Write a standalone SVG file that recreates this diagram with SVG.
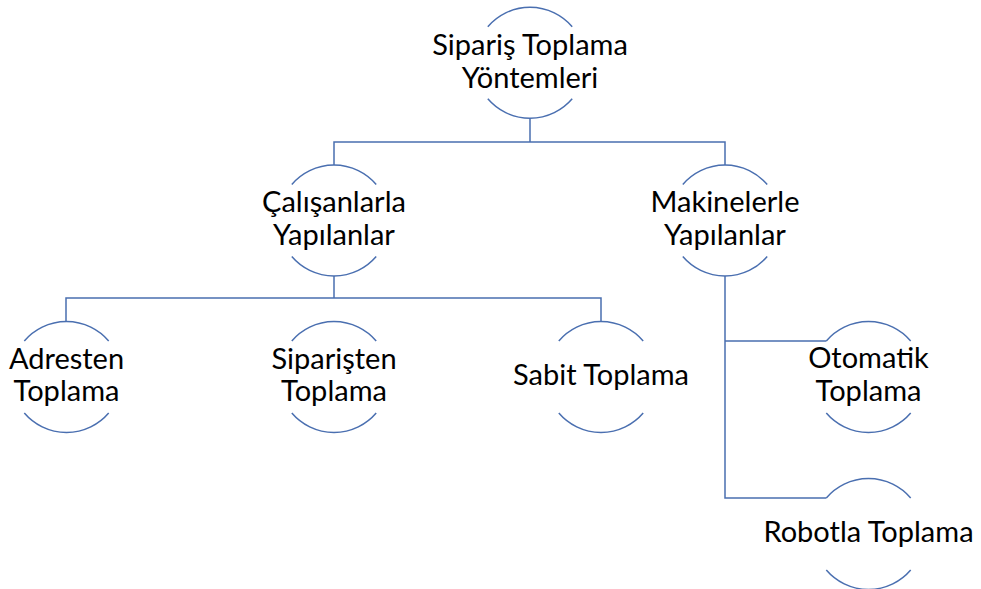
<svg xmlns="http://www.w3.org/2000/svg" width="981" height="589" viewBox="0 0 981 589">
  <style>
    .arc { fill: none; stroke: #4a6fb0; stroke-width: 1.5; }
    .conn { fill: none; stroke: #4a6fb0; stroke-width: 1.5; }
    .lbl { font-family: Lato, "Liberation Sans", sans-serif; font-size: 29px; fill: #000; text-anchor: middle; }
  </style>
  <defs>
    <!-- circle outline broken at the sides where the label sits -->
    <g id="ring">
      <path class="arc" d="M -42.2 -36 A 55.5 55.5 0 0 1 42.2 -36"/>
      <path class="arc" d="M -42.2 36 A 55.5 55.5 0 0 0 42.2 36"/>
    </g>
  </defs>
  <rect width="981" height="589" fill="#fff"/>

  <g id="connectors">
    <path class="conn" d="M 530 118.3 V 142 M 334 165 V 142 H 725 V 165"/>
    <path class="conn" d="M 334 276 V 298 M 66 321 V 298 H 601 V 321"/>
    <path class="conn" d="M 725 276 V 498 H 826.3 M 725 341 H 826.3"/>
  </g>

  <g id="root">
    <use href="#ring" x="530" y="62.8"/>
    <text class="lbl" x="530" y="55">Sipariş Toplama</text>
    <text class="lbl" x="530" y="88">Yöntemleri</text>
  </g>

  <g id="workers">
    <use href="#ring" x="334" y="220.5"/>
    <text class="lbl" x="334" y="212">Çalışanlarla</text>
    <text class="lbl" x="334" y="245">Yapılanlar</text>
  </g>

  <g id="machines">
    <use href="#ring" x="725" y="220.5"/>
    <text class="lbl" x="725" y="212">Makinelerle</text>
    <text class="lbl" x="725" y="245">Yapılanlar</text>
  </g>

  <g id="address">
    <use href="#ring" x="66.5" y="377"/>
    <text class="lbl" x="66.5" y="369">Adresten</text>
    <text class="lbl" x="66.5" y="401">Toplama</text>
  </g>

  <g id="order">
    <use href="#ring" x="334" y="377"/>
    <text class="lbl" x="334" y="369">Siparişten</text>
    <text class="lbl" x="334" y="401">Toplama</text>
  </g>

  <g id="fixed">
    <use href="#ring" x="601" y="377"/>
    <text class="lbl" x="601" y="385">Sabit Toplama</text>
  </g>

  <g id="automatic">
    <use href="#ring" x="868.5" y="377"/>
    <text class="lbl" x="868.5" y="368">Otomatik</text>
    <text class="lbl" x="868.5" y="401">Toplama</text>
  </g>

  <g id="robot">
    <use href="#ring" x="868.5" y="534"/>
    <text class="lbl" x="868.5" y="542">Robotla Toplama</text>
  </g>
</svg>
